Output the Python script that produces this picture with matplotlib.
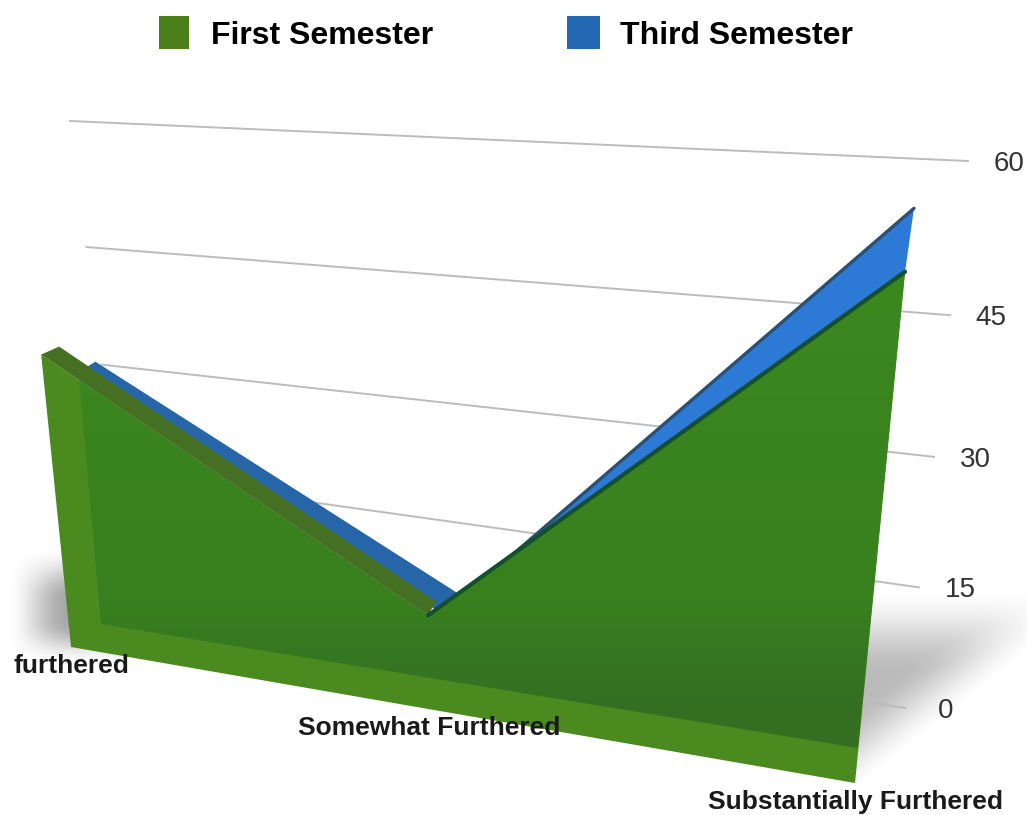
import numpy as np
import matplotlib
matplotlib.use('Agg')
import matplotlib.pyplot as plt
from matplotlib.patches import Polygon, Rectangle

# values
categories = ['furthered', 'Somewhat Furthered', 'Substantially Furthered']
first_semester = [35, 11, 50.5]
third_semester = [33, 12, 55]
ticks = [0, 15, 30, 45, 60]
legend_names = ['First Semester', 'Third Semester']

plt.rcParams['font.family'] = ['Liberation Sans', 'DejaVu Sans']

W, H = 1027, 815
X_MAX, V_MAX = 2, 60


def homography(corners):
    # corners in pixels for (0,0), (X_MAX,0), (X_MAX,V_MAX), (0,V_MAX)
    src = [(0, 0), (X_MAX, 0), (X_MAX, V_MAX), (0, V_MAX)]
    a, b = [], []
    for (x, y), (u, v) in zip(src, corners):
        a.append([x, y, 1, 0, 0, 0, -u * x, -u * y])
        a.append([0, 0, 0, x, y, 1, -v * x, -v * y])
        b += [u, v]
    h = np.linalg.solve(np.array(a, float), np.array(b, float))
    return np.append(h, 1).reshape(3, 3)


def proj(m, x, v):
    p = m @ np.array([x, v, 1.0])
    return p[:2] / p[2]


def cross(p1, p2, p3, p4):
    # where line p1-p2 meets line p3-p4
    d1, d2 = p2 - p1, p4 - p3
    s = np.linalg.solve(np.array([d1, -d2]).T, p3 - p1)
    return p1 + s[0] * d1


# the planes of the fake 3D scene
wall = homography([(130, 578), (905, 708), (968, 161), (70, 121)])
green_front = homography([(71, 647), (855, 783), (916, 160), (17, 118)])
green_back = homography([(101, 624), (858, 748), (916, 160), (55, 110)])
blue_back = homography([(120, 640), (875, 775), (918, 150), (73, 109)])

fig = plt.figure(figsize=(W / 100, H / 100), dpi=100)
ax = fig.add_axes([0, 0, 1, 1])
ax.set_xlim(0, W)
ax.set_ylim(H, 0)
ax.axis('off')

# soft shadows on the floor
yy, xx = np.mgrid[0:H, 0:W]


def smooth(a):
    a = np.clip(a, 0, 1)
    return a * a * (3 - 2 * a)


right_shadow = smooth((yy - 585) / 90) * smooth((800 - (xx - 850) * 0.8 - yy) / 90) * smooth((xx - 840) / 20)
left_shadow = smooth((xx - 5) / 65) * smooth((yy - 545) / 55) * smooth((665 - yy) / 45) * (xx < 120)
shade = 1 - 0.27 * right_shadow - 0.35 * left_shadow
ax.imshow(shade, cmap='gray', vmin=0, vmax=1, extent=[0, W, H, 0], aspect='auto', zorder=0)

# grid on the back wall and the value labels
for t in ticks:
    a, b = proj(wall, 0, t), proj(wall, X_MAX, t)
    ax.plot([a[0], b[0]], [a[1], b[1]], color='#bcbcbc', lw=1.4, zorder=1)
    ax.text(b[0] + 41, b[1] + 3, str(t), ha='center', va='center', fontsize=20, color='#333333', zorder=6)

green_tops = [proj(green_front, i, v) for i, v in enumerate(first_semester)]
blue_tops = [proj(blue_back, i, v) for i, v in enumerate(third_semester)]

# third semester, mostly hidden by the green area
blue_front = [blue_tops[0] + (-14, 9), blue_tops[1] + (-20, 18)]
ax.add_patch(Polygon([blue_front[0], blue_tops[0], blue_tops[1], blue_front[1]],
                     fc='#2565a8', ec='none', zorder=2))
ax.add_patch(Polygon([blue_tops[1], blue_tops[2], green_tops[2], green_tops[1]],
                     fc='#2d7ad6', ec='none', zorder=2))
ax.plot([blue_tops[1][0], blue_tops[2][0]], [blue_tops[1][1], blue_tops[2][1]],
        color='#2c4f72', lw=2.4, zorder=3, solid_capstyle='round')

# first semester: outer rim, then the darker inner body
base_front = [proj(green_front, 0, 0), proj(green_front, X_MAX, 0)]
outline = [base_front[0], base_front[1]] + [green_tops[2], green_tops[1], green_tops[0]]
ax.add_patch(Polygon(outline, fc='#4b8a1e', ec='none', zorder=4))

base_back = [proj(green_back, 0, 0), proj(green_back, X_MAX, 0)]
corner = cross(base_back[0], proj(green_back, 0, V_MAX), green_tops[0], green_tops[1])
inner = Polygon([corner, base_back[0], base_back[1], green_tops[2], green_tops[1]],
                fc='none', ec='none', zorder=4.2, transform=ax.transData)
ax.add_patch(inner)
stops_y = [270, 600, 700, 750]
stops_rgb = np.array([[60, 136, 30], [56, 128, 30], [52, 112, 34], [52, 110, 32]]) / 255
col = np.stack([np.interp(np.arange(H), stops_y, stops_rgb[:, k]) for k in range(3)], axis=1)
im = ax.imshow(col[:, None, :], extent=[0, W, H, 0], aspect='auto', zorder=4.3)
im.set_clip_path(inner)

# the top strip running along the left slope
strip_back = [green_tops[0] + (18, -8), green_tops[1] + (8, -14)]
ax.add_patch(Polygon([green_tops[0], strip_back[0], strip_back[1], green_tops[1]],
                     fc='#456f22', ec='none', zorder=4.5))
ax.plot([green_tops[1][0], green_tops[2][0]], [green_tops[1][1], green_tops[2][1]],
        color='#14502e', lw=3, zorder=4.6, solid_capstyle='round')

# category labels under the front edge
for i, name in enumerate(categories):
    p = proj(green_front, i, 0)
    ax.text(p[0], p[1] + 19, name, ha='center', va='center', fontsize=19,
            fontweight='bold', color='#1a1a1a', zorder=6)

# legend
ax.add_patch(Rectangle((159, 16), 30, 33, fc='#4a7f1a', ec='none', zorder=6))
ax.add_patch(Rectangle((567, 16), 33, 33, fc='#2468b4', ec='none', zorder=6))
ax.text(211, 36, legend_names[0], ha='left', va='center', fontsize=23, fontweight='bold', color='black')
ax.text(620, 36, legend_names[1], ha='left', va='center', fontsize=23, fontweight='bold', color='black')

fig.savefig('out.png', dpi=100)
